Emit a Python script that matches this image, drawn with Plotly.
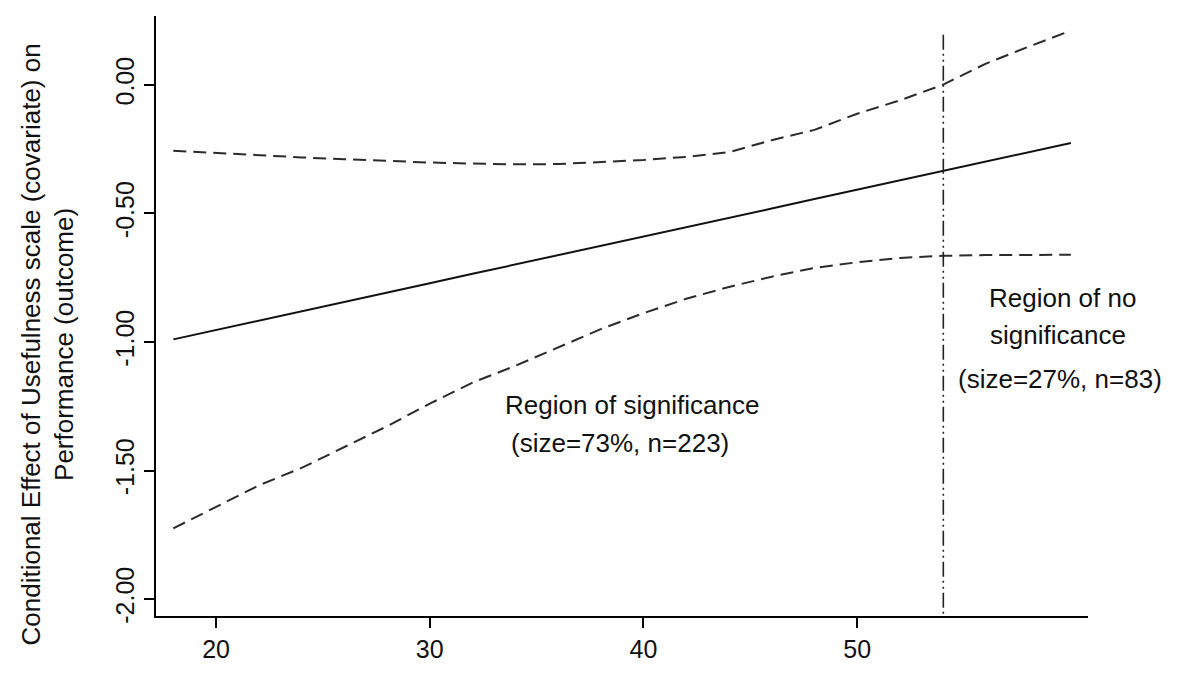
import plotly.graph_objects as go

# ---- data ----
moderator = [18, 20, 22, 24, 26, 28, 30, 32, 34, 36, 38, 40, 42, 44, 46, 48, 50, 52, 54, 56, 58, 60]
effect = [-0.990, -0.954, -0.917, -0.881, -0.845, -0.808, -0.772, -0.735, -0.699, -0.663, -0.626,
          -0.590, -0.553, -0.517, -0.481, -0.444, -0.408, -0.372, -0.335, -0.299, -0.262, -0.226]
upper_ci = [-0.256, -0.265, -0.273, -0.282, -0.289, -0.296, -0.302, -0.306, -0.309, -0.308, -0.300,
            -0.292, -0.280, -0.262, -0.215, -0.175, -0.112, -0.060, 0.000, 0.082, 0.148, 0.211]
lower_ci = [-1.725, -1.642, -1.558, -1.490, -1.408, -1.328, -1.240, -1.158, -1.093, -1.022, -0.950,
            -0.888, -0.832, -0.786, -0.746, -0.712, -0.690, -0.673, -0.665, -0.662, -0.661, -0.661]

jn_point = 54.03            # Johnson-Neyman cut-off
jn_line_y = [0.195, -2.066]

x_ticks = [20, 30, 40, 50]
y_ticks = [-2.0, -1.5, -1.0, -0.5, 0.0]
y_tick_labels = ["-2.00", "-1.50", "-1.00", "-0.50", "0.00"]

y_title = "Conditional Effect of Usefulness scale (covariate) on<br>Performance (outcome)"

labels_sig = ["Region of significance", "(size=73%, n=223)"]
labels_nosig = ["Region of no", "significance", "(size=27%, n=83)"]

FONT = "Liberation Sans, Arial, sans-serif"

fig = go.Figure()
fig.add_trace(go.Scatter(x=moderator, y=upper_ci, mode="lines",
                         line=dict(color="#2b2b2b", width=2, dash="13px,7px"), showlegend=False))
fig.add_trace(go.Scatter(x=moderator, y=effect, mode="lines",
                         line=dict(color="#111111", width=2), showlegend=False))
fig.add_trace(go.Scatter(x=moderator, y=lower_ci, mode="lines",
                         line=dict(color="#2b2b2b", width=2, dash="13px,7px"), showlegend=False))
fig.add_trace(go.Scatter(x=[jn_point, jn_point], y=jn_line_y, mode="lines",
                         line=dict(color="#222222", width=1.6, dash="15px,4px,2px,4px,2px,4px"),
                         showlegend=False))

ann_font = dict(family=FONT, size=26, color="#111111")
sig_pos = [(39.47, -1.245), (38.9, -1.393)]
nosig_pos = [(59.6, -0.829), (59.4, -0.973), (59.5, -1.144)]
for txt, (ax, ay) in zip(labels_sig, sig_pos):
    fig.add_annotation(x=ax, y=ay, text=txt, showarrow=False, font=ann_font,
                       xanchor="center", yanchor="middle")
for txt, (ax, ay) in zip(labels_nosig, nosig_pos):
    fig.add_annotation(x=ax, y=ay, text=txt, showarrow=False, font=ann_font,
                       xanchor="center", yanchor="middle")

# y-axis title (placed as rotated text, slightly below the axis centre like the reference)
fig.add_annotation(xref="paper", yref="paper", x=-0.1164, y=0.4517, text=y_title,
                   textangle=-90, showarrow=False, xanchor="center", yanchor="middle",
                   font=dict(family=FONT, size=26, color="#111111"))

# page body has an 8px margin, so the figure is sized to sit at the same place
fig.update_layout(
    width=1173, height=669,
    margin=dict(l=148, r=93, t=8, b=61),
    paper_bgcolor="white", plot_bgcolor="white",
    font=dict(family=FONT, size=25, color="#111111"),
    xaxis=dict(range=[17.19, 60.80], tickvals=x_ticks, ticks="outside", ticklen=10,
               tickwidth=1.6, tickcolor="black", showline=True, linecolor="black", linewidth=2,
               showgrid=False, zeroline=False, tickfont=dict(size=25)),
    yaxis=dict(range=[-2.066, 0.268], tickvals=y_ticks, ticktext=y_tick_labels,
               ticks="outside", ticklen=10, tickwidth=1.6, tickcolor="black",
               showline=True, linecolor="black", linewidth=2, showgrid=False, zeroline=False,
               tickangle=-90, tickfont=dict(size=25)),
)

fig.write_html("out.html")
